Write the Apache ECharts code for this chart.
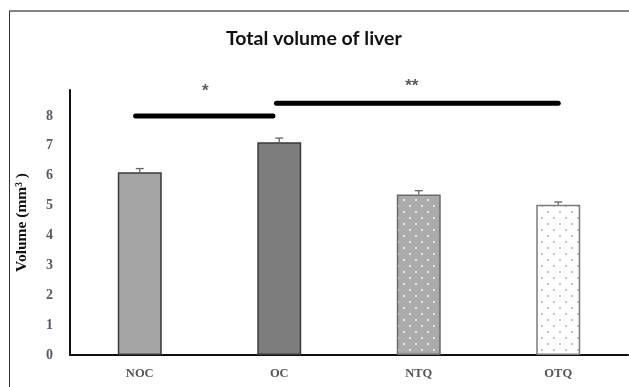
<!DOCTYPE html>
<html><head><meta charset="utf-8">
<script src="https://cdn.jsdelivr.net/npm/echarts@6/dist/echarts.min.js"></script>
<style>html,body{margin:0;padding:0;background:#fff}#c{width:629px;height:387px}</style>
</head><body><div id="c"></div>
<script>
var categories = ['NOC', 'OC', 'NTQ', 'OTQ'];
var volumes = [6.12, 7.12, 5.37, 5.03];
var errors = [0.12, 0.14, 0.13, 0.09];
var yTicks = [0, 1, 2, 3, 4, 5, 6, 7, 8];
var sigLine1 = [[-0.03, 8.0], [0.955, 8.0]];
var sigLine2 = [[0.98, 8.43], [3.0, 8.43]];
var sigStars = [[0.47, 8.83, '*'], [1.95, 9.0, '**']];

function dotPattern(bg, dot, step) {
  var c = document.createElement('canvas');
  c.width = step * 2; c.height = step * 2;
  var g = c.getContext('2d');
  g.fillStyle = bg; g.fillRect(0, 0, c.width, c.height);
  g.fillStyle = dot;
  g.fillRect(1, 1, 2, 2);
  g.fillRect(step + 1, step + 1, 2, 2);
  return c;
}
var fills = [
  '#a5a5a5',
  '#7d7d7d',
  {image: dotPattern('#ababab', '#e6e6e6', 6), repeat: 'repeat'},
  {image: dotPattern('#ffffff', '#c4c4c4', 6), repeat: 'repeat'}
];
var borders = ['#3a3a3a', '#3a3a3a', '#6a6a6a', '#7a7a7a'];

var chart = echarts.init(document.getElementById('c'));
var serif = '"Liberation Serif", "DejaVu Serif", serif';
chart.setOption({
  animation: false,
  title: {
    text: 'Total volume of liver', left: 221, top: 24,
    textStyle: {fontFamily: 'Lato, "Open Sans", sans-serif', fontWeight: 'bold', fontSize: 19.5, color: '#111'}
  },
  grid: {left: 70, right: 1, top: 90, bottom: 32},
  xAxis: [{
    type: 'category', data: categories,
    axisLine: {lineStyle: {color: '#111', width: 2}},
    axisTick: {show: false},
    axisLabel: {fontFamily: serif, fontWeight: 'bold', fontSize: 12.5, color: '#555', margin: 12}
  }, {
    type: 'value', min: -0.5, max: 3.5, show: false
  }],
  yAxis: {
    type: 'value', min: 0, max: 8.87, interval: 1,
    name: 'Volume (mm³ )', nameLocation: 'middle', nameGap: 40, nameRotate: 90,
    nameTextStyle: {fontFamily: serif, fontWeight: 'bold', fontSize: 15.5, color: '#111'},
    axisLine: {show: true, onZero: false, lineStyle: {color: '#111', width: 2}},
    axisTick: {show: false},
    splitLine: {show: false},
    axisLabel: {
      fontFamily: serif, fontWeight: 'bold', fontSize: 14, color: '#5a5a66', margin: 17,
      formatter: function (v) { return yTicks.indexOf(v) >= 0 ? String(v) : ''; }
    }
  },
  series: [{
    type: 'bar', barWidth: '31.5%',
    data: volumes.map(function (v, i) {
      return {value: v, itemStyle: {color: fills[i], borderColor: borders[i], borderWidth: 1.5}};
    })
  }, {
    type: 'custom',
    data: volumes.map(function (v, i) { return [i, v, v + errors[i]]; }),
    renderItem: function (params, api) {
      var lo = api.coord([api.value(0), api.value(1)]);
      var hi = api.coord([api.value(0), api.value(2)]);
      var st = {stroke: '#666', lineWidth: 1.3};
      return {type: 'group', children: [
        {type: 'line', shape: {x1: lo[0], y1: lo[1], x2: hi[0], y2: hi[1]}, style: st},
        {type: 'line', shape: {x1: hi[0] - 4, y1: hi[1], x2: hi[0] + 4, y2: hi[1]}, style: st}
      ]};
    },
    z: 3
  }, {
    type: 'line', xAxisIndex: 1, data: sigLine1, symbol: 'none', clip: false,
    lineStyle: {color: '#000', width: 5, cap: 'round'}
  }, {
    type: 'line', xAxisIndex: 1, data: sigLine2, symbol: 'none', clip: false,
    lineStyle: {color: '#000', width: 5, cap: 'round'}
  }, {
    type: 'scatter', xAxisIndex: 1, symbolSize: 1, clip: false,
    itemStyle: {color: 'rgba(0,0,0,0)'},
    data: sigStars,
    label: {show: true, position: 'inside', formatter: function (p) { return p.data[2]; },
      fontFamily: '"Liberation Sans", sans-serif', fontWeight: 'bold', fontSize: 17, color: '#333'}
  }],
  graphic: [
    {type: 'line', shape: {x1: 9, y1: 11, x2: 629, y2: 11}, style: {stroke: '#858585', lineWidth: 2}},
    {type: 'line', shape: {x1: 9.5, y1: 11, x2: 9.5, y2: 387}, style: {stroke: '#333', lineWidth: 1}}
  ]
});
</script>
</body></html>
